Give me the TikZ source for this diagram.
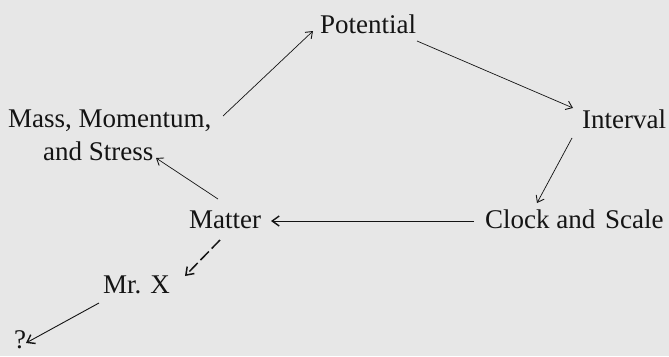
\documentclass[tikz,border=0pt]{standalone}
\usepackage{fontspec}
\setmainfont{Liberation Serif}
\usetikzlibrary{arrows.meta}
\definecolor{bg}{RGB}{231,231,231}
\definecolor{ink}{RGB}{20,20,20}
\tikzset{
  lbl/.style={inner sep=0pt, anchor=base west, text=ink, font=\fontsize{27}{30}\selectfont},
  conn/.style={draw=ink, line width=0.7pt, -{Straight Barb[length=6pt,width=9pt,line width=0.9pt]}},
  heavy/.style={draw=ink, line width=1.5pt, -{Straight Barb[length=7pt,width=10pt,line width=1.5pt]}}
}
\begin{document}
\begin{tikzpicture}[x=1pt,y=-1pt]
\useasboundingbox (0,0) rectangle (669,356);
\fill[bg] (0,0) rectangle (669,356);
\clip (0,0) rectangle (669,356);
\node[lbl] (pot) at (320,33) {Potential};
\node[lbl] (mass) at (8,127) {Mass, Momentum,};
\node[lbl] (stress) at (43,160) {and Stress};
\node[lbl] (interval) at (582,128) {Interval};
\node[lbl] (clock) at (485,228) {Clock and\hspace{3pt} Scale};
\node[lbl] (matter) at (189,228) {Matter};
\node[lbl] (mrx) at (103,293) {Mr. X};
\node[lbl] (q) at (14,348) {?};
\draw[conn] ([shift={(215,-11)}]mass.base west) -- ([shift={(-7,-2)}]pot.base west);
\draw[conn] ([shift={(97,8)}]pot.base west) -- ([shift={(-9,-20)}]interval.base west);
\draw[conn] ([shift={(-10,10)}]interval.base west) -- ([shift={(52,-25)}]clock.base west);
\draw[conn, -{Straight Barb[length=7pt,width=10pt,line width=1.4pt]}] ([shift={(-11,-7)}]clock.base west) -- ([shift={(82,-7)}]matter.base west);
\draw[conn] ([shift={(29,-29)}]matter.base west) -- ([shift={(113,-2)}]stress.base west);
\draw[heavy, dash pattern=on 12pt off 4pt] ([shift={(31,12)}]matter.base west) -- ([shift={(82,-17)}]mrx.base west);
\draw[conn, line width=0.9pt, -{Straight Barb[length=7pt,width=10pt,line width=1.4pt]}] ([shift={(-4,10)}]mrx.base west) -- ([shift={(12,-5)}]q.base west);
\end{tikzpicture}
\end{document}
